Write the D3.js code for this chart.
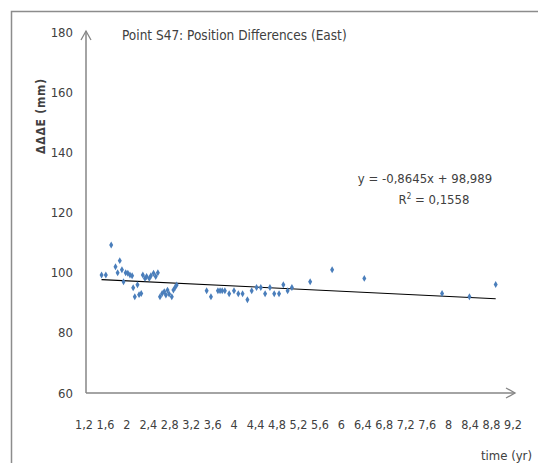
<!DOCTYPE html>
<html>
<head>
<meta charset="utf-8">
<script src="https://cdn.jsdelivr.net/npm/d3@7"></script>
<style>
  body { margin: 0; background: #fff; }
  text { font-family: "DejaVu Sans Condensed", "DejaVu Sans", sans-serif; font-stretch: condensed; fill: #404040; }
</style>
</head>
<body>
<div id="canvas"></div>
<script>
const timeYr = [1.49, 1.57, 1.67, 1.75, 1.79, 1.83, 1.87, 1.90, 1.94, 1.98, 2.02, 2.06, 2.08, 2.11,
    2.16, 2.19, 2.23, 2.26, 2.30, 2.33, 2.38, 2.41, 2.46, 2.50, 2.54, 2.58, 2.62, 2.66, 2.69, 2.72,
    2.75, 2.80, 2.83, 2.86, 2.89, 3.45, 3.53, 3.66, 3.70, 3.74, 3.79, 3.87, 3.96, 4.04, 4.12, 4.21,
    4.29, 4.38, 4.46, 4.54, 4.63, 4.71, 4.80, 4.88, 4.96, 5.04, 5.38, 5.79, 6.39, 7.84, 8.35, 8.84];
const deltaE = [99.2, 99.2, 109.2, 102, 100, 104, 101, 97, 100, 99.8, 99.2, 99, 95, 92,
    96, 92.7, 93.1, 99.2, 98.1, 98.7, 98.1, 99, 99.8, 98.7, 100, 92, 93.1, 93.7, 92.6, 94.2,
    92.9, 92, 94.2, 95.1, 95.9, 94, 92, 94, 94, 94, 94, 93, 94, 93, 93, 91,
    94, 95.1, 95.1, 93, 95.1, 93, 93, 96, 94, 95.1, 97, 101, 98.1, 93.1, 92, 96.1];

const xTicks = [1.2, 1.6, 2, 2.4, 2.8, 3.2, 3.6, 4, 4.4, 4.8, 5.2, 5.6, 6, 6.4, 6.8, 7.2, 7.6, 8, 8.4, 8.8, 9.2];
const yTicks = [60, 80, 100, 120, 140, 160, 180];

// linear trend
const slope = -0.8645;
const intercept = 98.989;
const rSquared = 0.1558;

const width = 538;
const height = 463;

// comma decimal separator, plain hyphen for minus
const locale = d3.formatLocale({ decimal: ",", thousands: " ", grouping: [3], currency: ["", ""], minus: "-" });
const fmt = locale.format("~r");

const x = d3.scaleLinear().domain([1.2, 9.2]).range([86, 515]);
const y = d3.scaleLinear().domain([60, 180]).range([393, 32]);

const svg = d3.select("#canvas")
    .append("svg")
    .attr("width", width)
    .attr("height", height);

// outer chart border (runs off the bottom/right)
svg.append("rect")
    .attr("x", 11.5).attr("y", 11.5)
    .attr("width", 560).attr("height", 500)
    .attr("fill", "none")
    .attr("stroke", "#8c8c8c")
    .attr("stroke-width", 1.5);

const axisColor = "#868686";

// y axis with open arrow
svg.append("line")
    .attr("x1", x(1.2)).attr("x2", x(1.2))
    .attr("y1", y(60)).attr("y2", 31)
    .attr("stroke", axisColor).attr("stroke-width", 1.5);
svg.append("path")
    .attr("d", `M${x(1.2) - 5},${40} L${x(1.2)},${31} L${x(1.2) + 5},${40}`)
    .attr("fill", "none").attr("stroke", axisColor).attr("stroke-width", 1.3);

// x axis with open arrow
svg.append("line")
    .attr("x1", x(1.2)).attr("x2", x(9.2))
    .attr("y1", y(60)).attr("y2", y(60))
    .attr("stroke", axisColor).attr("stroke-width", 1.5);
svg.append("path")
    .attr("d", `M${x(9.2) - 9},${y(60) - 5} L${x(9.2)},${y(60)} L${x(9.2) - 9},${y(60) + 5}`)
    .attr("fill", "none").attr("stroke", axisColor).attr("stroke-width", 1.3);

// tick labels
svg.selectAll("text.ytick")
    .data(yTicks)
    .join("text")
    .attr("class", "ytick")
    .attr("x", 73)
    .attr("y", d => y(d))
    .attr("dy", "0.35em")
    .attr("text-anchor", "end")
    .attr("font-size", "13px")
    .text(d => fmt(d));

svg.selectAll("text.xtick")
    .data(xTicks)
    .join("text")
    .attr("class", "xtick")
    .attr("x", d => x(d) - 2)
    .attr("y", 429)
    .attr("text-anchor", "middle")
    .attr("font-size", "12.5px")
    .text(d => fmt(d));

// axis titles
svg.append("text")
    .attr("transform", "translate(45,116) rotate(-90)")
    .attr("text-anchor", "middle")
    .attr("font-size", "12px")
    .attr("font-weight", "bold")
    .style("font-stretch", "normal")
    .style("letter-spacing", "0.8px")
    .text("ΔΔΔE (mm)");

svg.append("text")
    .attr("x", 532).attr("y", 460)
    .attr("text-anchor", "end")
    .attr("font-size", "13px")
    .text("time (yr)");

// title
svg.append("text")
    .attr("x", 122).attr("y", 40)
    .attr("font-size", "13.5px")
    .text("Point S47: Position Differences (East)");

// trend line across the observed range
const xExt = d3.extent(timeYr);
svg.append("line")
    .attr("x1", x(xExt[0])).attr("y1", y(slope * xExt[0] + intercept))
    .attr("x2", x(xExt[1])).attr("y2", y(slope * xExt[1] + intercept))
    .attr("stroke", "#000").attr("stroke-width", 1.1);

// points
const diamond = d3.symbol().type(d3.symbolDiamond).size(14);
svg.selectAll("path.pt")
    .data(timeYr.map((t, i) => ({ t, e: deltaE[i] })))
    .join("path")
    .attr("class", "pt")
    .attr("transform", d => `translate(${x(d.t)},${y(d.e)})`)
    .attr("d", diamond)
    .attr("fill", "#4a7ebb");

// regression text
svg.append("text")
    .attr("x", 425).attr("y", 183)
    .attr("text-anchor", "middle")
    .attr("font-size", "13px")
    .text(`y = ${fmt(slope)}x + ${fmt(intercept)}`);

const r2 = svg.append("text")
    .attr("x", 434).attr("y", 204)
    .attr("text-anchor", "middle")
    .attr("font-size", "13px");
r2.append("tspan").text("R");
r2.append("tspan").attr("font-size", "8px").attr("dy", "-5").text("2");
r2.append("tspan").attr("dy", "5").text(` = ${fmt(rSquared)}`);
</script>
</body>
</html>
